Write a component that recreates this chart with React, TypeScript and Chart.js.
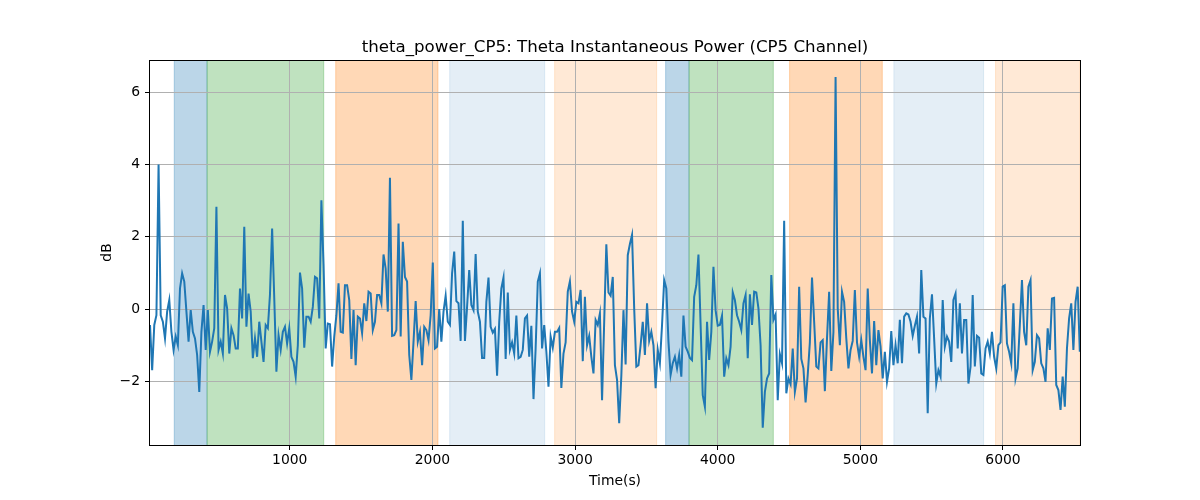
import React, { useEffect, useRef } from "react";
import Chart from "chart.js/auto";

// time axis (seconds) and sampling of the power trace
const X_MIN = 20;
const X_MAX = 6540;
const T_START = 20;
const T_STEP = 15.02;

const X_TICKS = [1000, 2000, 3000, 4000, 5000, 6000];
const Y_TICKS = [-2, 0, 2, 4, 6];
const Y_MIN = -3.76;
const Y_MAX = 6.89;

// theta power in dB left to right
const power1 = [
  -0.44, -1.69, -0.44, -0.17, 4.0, -0.17, -0.35, -0.81, -0.07, 0.25,
  -0.63, -1.13, -0.76, -1.0, 0.57, 0.99, 0.76, -0.07, -0.9, -0.03,
  -0.63, -0.81, -1.27, -2.29, -0.63, 0.11, -1.13, -0.03, -1.18, -0.9,
  -0.53, 2.83, -1.13, -0.9, -1.23, 0.39, 0.02, -1.23, -0.53, -0.72,
  -1.09, -1.09, 0.57, -0.26, 2.28, -0.49, 0.43, -0.07, -1.36, -0.81,
  -1.32, -0.35, -0.9, -1.46, -0.44, -0.53, 0.4,
];
const power2 = [
  2.23, 0.3, -1.73, -0.72, -1.13, -0.63, -0.49, -0.95, -0.53, -1.32,
  -1.46, -1.87, -1.0, 1.01, 0.57, -1.07, -0.21, -0.21, -0.35, 0.06,
  0.89, 0.85, -0.26, 3.01, 1.22, -1.09, -0.4, -0.42, -1.59, -0.76,
  -0.17, 0.71, -0.63, -0.65, 0.66, 0.66, 0.25, -1.38, -0.03, -1.55,
  -0.21, -0.26, -0.67, 0.16, -0.33, 0.48, 0.43, -0.58, -0.35, 0.39,
  0.39, 0.16, 1.51, 1.12, -0.07,
];
const power3 = [
  3.63, -0.74, -0.72, -0.58, 2.37, -0.76, 1.86, 0.89, 0.76, -1.27,
  -1.96, -0.9, 0.22, -0.9, -0.63, -1.55, -0.49, -0.58, -0.86, -0.17,
  1.29, -1.09, -1.04, 0.0, -0.9, -0.07, 0.37, -0.35, -0.44, 0.99,
  1.59, 0.22, 0.16, -0.88, 2.44, -0.88, 0.06, 1.08, 0.11, -0.03,
  1.52, -0.07, -0.35, -1.35, -1.35, 0.2, 0.87, -0.49, -0.65, -0.55,
  -1.84, -0.35, 0.57, 0.87, -1.38, 0.46,
];
const power4 = [
  -1.13, -0.92, -1.23, -0.18, -1.36, -1.32, -1.13, -0.26, -0.18, -1.32,
  -0.46, -2.49, -1.09, 0.76, 0.99, -1.09, -0.44, -1.18, -2.15, -0.76,
  -1.07, -0.63, -0.63, -0.52, -2.18, -1.23, -0.92, 0.48, 0.77, -0.07,
  -0.35, 0.2, 0.16, 0.53, -1.44, 0.34, -1.0, -0.74, -1.32, -1.78,
  -0.3, -0.44, -0.12, -2.52, -0.35, 1.79, 0.46, 0.37, 0.89, -1.55,
  -1.96, -3.16, -1.84, -0.03, -1.53, 1.49,
];
const power5 = [
  1.8, 2.05, 0.02, -1.59, -1.55, -1.0, -0.35, -1.27, 0.16, -0.88,
  -0.63, -1.0, -2.19, -1.13, -1.5, -0.44, 0.8, 0.57, -0.9, -1.82,
  -1.5, -1.32, -1.64, -1.27, -1.87, -0.18, -1.04, -1.18, -1.35, -1.41,
  0.34, 0.66, 1.51, -0.44, -2.38, -2.7, -0.35, -1.41, -0.63, 1.17,
  -0.03, -0.46, -0.44, -0.18, -1.87, -1.36, -1.55, -1.04, 0.46, 0.25,
  -0.17, -0.35, -0.58, 0.16, 0.39, -1.36,
];
const power6 = [
  0.41, -0.44, 0.48, 0.46, 0.02, -1.0, -3.28, -2.29, -1.92, -1.78,
  0.94, -0.3, -0.15, -2.52, -1.25, -1.5, 2.44, -2.33, -1.92, -2.08,
  -1.09, -2.29, -1.92, 0.62, -1.38, -1.64, -2.58, -1.82, -0.92, 0.87,
  -0.35, -1.59, -1.64, -0.92, -0.86, -2.27, -0.81, 0.48, -1.71, -0.63,
  6.42, 0.02, -1.0, 0.48, 0.2, -0.81, -1.64, -1.13, -0.88, 0.53,
  -0.92, -1.32, -0.86, -1.32, -1.69, 0.57,
];
const power7 = [
  -0.86, -1.78, -0.33, -1.55, -0.58, -1.04, -1.92, -1.18, -2.01, -1.64,
  -0.61, -1.55, -1.0, -1.5, -0.3, -1.5, -0.21, -0.12, -0.15, -0.35,
  -0.74, -0.46, -0.21, -1.23, 1.08, -0.21, -0.26, -2.88, -0.26, 0.41,
  -0.81, -2.06, -1.69, -1.87, 0.25, -1.04, -0.76, -0.9, -1.46, 0.25,
  0.43, -1.09, 0.16, -1.23, -0.3, -0.3, -2.06, -1.59, 0.39, -1.59,
  -0.74, -0.79, -1.78, -1.82, -1.09, -0.9,
];
const power8 = [
  -1.23, -0.63, -1.32, -1.64, -1.0, -0.92, 0.62, 0.66, -0.95, -1.18,
  -1.5, 0.16, -1.92, -1.64, -0.44, 0.8, -0.63, -1.0, 0.62, 0.8,
  -1.69, -1.46, -0.72, -0.81, -1.5, -1.64, -2.01, -0.53, -1.13, 0.29,
  0.31, -2.1, -2.24, -2.79, -1.87, -2.7, -1.09, -0.26, 0.16, -1.13,
  0.2, 0.62, -1.18,
];

// shaded stage intervals
const spanStarts = [190, 420, 1322, 2121, 2857, 3635, 3799, 4504, 5235, 5948];
const spanEnds = [420, 1238, 2039, 2787, 3572, 3799, 4390, 5154, 5864, 6540];
const spanKinds = ["blue", "green", "orange", "paleBlue", "paleOrange", "blue", "green", "orange", "paleBlue", "paleOrange"];

const SPAN_COLORS: Record<string, string> = {
  blue: "rgba(31, 119, 180, 0.3)",
  green: "rgba(44, 160, 44, 0.3)",
  orange: "rgba(255, 127, 14, 0.3)",
  paleBlue: "rgba(31, 119, 180, 0.12)",
  paleOrange: "rgba(255, 127, 14, 0.17)",
};

const FONT = "DejaVu Sans";
const minus = (v: number) => String(v).replace("-", "\u2212");

const spanPlugin = {
  id: "stageSpans",
  beforeDraw(chart: any) {
    const { ctx, chartArea, scales } = chart;
    ctx.save();
    ctx.beginPath();
    ctx.rect(chartArea.left, chartArea.top, chartArea.right - chartArea.left, chartArea.bottom - chartArea.top);
    ctx.clip();
    spanStarts.forEach((s, i) => {
      const x1 = scales.x.getPixelForValue(s);
      const x2 = scales.x.getPixelForValue(spanEnds[i]);
      ctx.fillStyle = SPAN_COLORS[spanKinds[i]];
      ctx.strokeStyle = SPAN_COLORS[spanKinds[i]];
      ctx.lineWidth = 1;
      ctx.fillRect(x1, chartArea.top, x2 - x1, chartArea.bottom - chartArea.top);
      ctx.beginPath();
      ctx.moveTo(x1, chartArea.top);
      ctx.lineTo(x1, chartArea.bottom);
      ctx.moveTo(x2, chartArea.top);
      ctx.lineTo(x2, chartArea.bottom);
      ctx.stroke();
    });
    ctx.restore();
  },
};

const framePlugin = {
  id: "axesFrame",
  afterDraw(chart: any) {
    const { ctx, chartArea } = chart;
    ctx.save();
    ctx.strokeStyle = "#000";
    ctx.lineWidth = 1;
    const l = Math.round(chartArea.left) - 0.5;
    const t = Math.round(chartArea.top) + 0.5;
    const r = Math.round(chartArea.right) + 0.5;
    const b = Math.round(chartArea.bottom) + 0.5;
    ctx.strokeRect(l, t, r - l, b - t);
    ctx.restore();
  },
};

const App: React.FC = () => {
  const canvasRef = useRef<HTMLCanvasElement | null>(null);

  useEffect(() => {
    if (!canvasRef.current) return;

    const power = [...power1, ...power2, ...power3, ...power4, ...power5, ...power6, ...power7, ...power8];
    const points = power.map((v, i) => ({ x: T_START + i * T_STEP, y: v }));

    const chart = new Chart(canvasRef.current, {
      type: "line",
      data: {
        datasets: [
          {
            data: points,
            borderColor: "#1f77b4",
            borderWidth: 2,
            pointRadius: 0,
            tension: 0,
          },
        ],
      },
      options: {
        animation: false,
        responsive: true,
        maintainAspectRatio: false,
        layout: { padding: { left: 95, right: 120, top: 0, bottom: 0 } },
        plugins: {
          legend: { display: false },
          tooltip: { enabled: false },
          title: {
            display: true,
            fullSize: false,
            text: "theta_power_CP5: Theta Instantaneous Power (CP5 Channel)",
            color: "#000",
            font: { family: FONT, size: 16.67, weight: "normal", lineHeight: 1.2 },
            padding: { top: 38, bottom: 2 },
          },
        },
        scales: {
          x: {
            type: "linear",
            min: X_MIN,
            max: X_MAX,
            afterBuildTicks: (scale: any) => {
              scale.ticks = X_TICKS.map((v) => ({ value: v }));
            },
            afterFit: (scale: any) => {
              scale.height = 55;
            },
            border: { display: false },
            grid: { color: "#b0b0b0", lineWidth: 1, tickColor: "#000", tickLength: 5 },
            ticks: {
              color: "#000",
              padding: 2,
              maxRotation: 0,
              font: { family: FONT, size: 13.9 },
              callback: (v: any) => minus(v),
            },
            title: {
              display: true,
              text: "Time(s)",
              color: "#000",
              font: { family: FONT, size: 13.9, lineHeight: 1.2 },
              padding: { top: 0, bottom: 10 },
            },
          },
          y: {
            type: "linear",
            min: Y_MIN,
            max: Y_MAX,
            afterBuildTicks: (scale: any) => {
              scale.ticks = Y_TICKS.map((v) => ({ value: v }));
            },
            afterFit: (scale: any) => {
              scale.width = 55;
            },
            border: { display: false },
            grid: { color: "#b0b0b0", lineWidth: 1, tickColor: "#000", tickLength: 5 },
            ticks: {
              color: "#000",
              padding: 5,
              font: { family: FONT, size: 13.9 },
              callback: (v: any) => minus(v),
            },
            title: {
              display: true,
              text: "dB",
              color: "#000",
              font: { family: FONT, size: 13.9, lineHeight: 1.2 },
              padding: { top: 4, bottom: 0 },
            },
          },
        },
      },
      plugins: [spanPlugin, framePlugin],
    });

    return () => {
      chart.destroy();
    };
  }, []);

  return (
    <div style={{ position: "absolute", left: 0, top: 0, width: "1200px", height: "500px" }}>
      <canvas ref={canvasRef} />
    </div>
  );
};

export default App;
